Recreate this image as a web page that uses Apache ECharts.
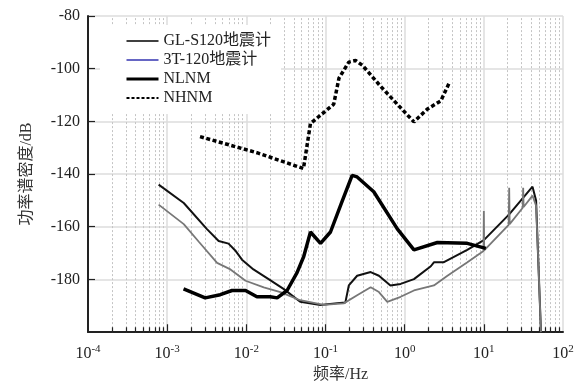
<!DOCTYPE html>
<html>
<head>
<meta charset="utf-8">
<script src="https://cdn.jsdelivr.net/npm/echarts@6/dist/echarts.min.js"></script>
<style>
    html, body { margin: 0; padding: 0; background: #fff; }
    #psd { width: 584px; height: 388px; }
</style>
</head>
<body>
<div id="psd"></div>
<script>
// 频率(Hz) / 功率谱密度(dB)
var glFreq = [0.00078, 0.00162, 0.00316, 0.00447, 0.00596, 0.00724, 0.00881, 0.0123, 0.0191, 0.0295, 0.0479, 0.0865, 0.141, 0.178, 0.197, 0.251, 0.372, 0.473, 0.661, 0.89, 1.31, 2.14, 2.34, 3.09, 6.17, 10, 20.9, 41.2, 45.7, 48.3, 52.7];
var glPsd = [-144.0, -151.0, -160.8, -165.4, -166.4, -169.0, -172.5, -176.2, -179.9, -183.6, -188.5, -189.7, -189.0, -188.8, -182.3, -178.6, -177.2, -178.6, -182.3, -181.7, -179.9, -175.0, -173.5, -173.5, -168.8, -165.1, -155.3, -144.8, -150, -170, -200];

var t3Freq = [0.00078, 0.00162, 0.00251, 0.00427, 0.0063, 0.00977, 0.0166, 0.0269, 0.0479, 0.095, 0.17, 0.251, 0.372, 0.473, 0.603, 0.89, 1.31, 2.34, 3.47, 6.2, 9.9, 10, 10.1, 20.6, 20.9, 21.2, 31, 31.4, 31.8, 41.2, 45.7, 48.3, 52.7];
var t3Psd = [-151.6, -159.0, -165.7, -173.7, -176.2, -180.5, -183.0, -184.8, -187.9, -189.7, -189.1, -186.0, -183.0, -184.8, -188.5, -186.6, -184.2, -182.3, -178.6, -173.5, -169.2, -154, -169, -159.3, -145.2, -159.0, -152.8, -145.2, -152.5, -148.2, -152, -170, -200];

var nlnmFreq = [0.00161, 0.00302, 0.00468, 0.0066, 0.00977, 0.0136, 0.02, 0.0245, 0.0327, 0.0437, 0.0531, 0.0646, 0.0865, 0.1156, 0.162, 0.217, 0.251, 0.407, 0.807, 1.31, 2.59, 6.17, 10.6];
var nlnmPsd = [-183.6, -187.0, -185.8, -184.2, -184.2, -186.6, -186.6, -187.0, -184.2, -177.4, -171.3, -162.0, -166.3, -162.0, -150.4, -140.5, -141.1, -146.7, -160.8, -168.8, -166.0, -166.3, -168.2];

var nhnmFreq = [0.0026, 0.0136, 0.0527, 0.0646, 0.127, 0.148, 0.197, 0.24, 0.292, 0.497, 0.807, 1.31, 1.94, 2.86, 3.64];
var nhnmPsd = [-125.8, -131.9, -137.9, -120.8, -113.5, -103.6, -97.5, -96.9, -98.7, -106.7, -113.5, -120.2, -115.3, -112.2, -105.5];

var seriesNames = ['GL-S120地震计', '3T-120地震计', 'NLNM', 'NHNM'];

function pairs(fs, vs) {
    var out = [];
    for (var i = 0; i < fs.length; i++) {
        out.push([fs[i], vs[i]]);
    }
    return out;
}

// 对数轴次网格线 / 刻度 (2..9 倍)
var minorGrid = [];
var minorTick = [];
for (var e = -4; e < 2; e++) {
    for (var m = 1; m <= 9; m++) {
        var v = m * Math.pow(10, e);
        if (m > 1) {
            minorGrid.push({ coords: [[v, -200], [v, -80]] });
            minorTick.push({ coords: [[v, -200], [v, -198.2]] });
        } else if (e > -4) {
            minorTick.push({ coords: [[v, -200], [v, -197]] });
        }
    }
}

var serif = "'Liberation Serif', 'Noto Sans CJK SC', serif";

var myChart = echarts.init(document.getElementById('psd'));

var option = {
    animation: false,
    backgroundColor: '#fff',
    textStyle: { fontFamily: serif },
    grid: {
        left: 88,
        right: 21,
        top: 16,
        bottom: 47
    },
    legend: {
        orient: 'vertical',
        left: 100,
        top: 25,
        padding: [8, 10, 8, 25],
        itemGap: 3,
        itemWidth: 32,
        itemHeight: 12,
        backgroundColor: '#fff',
        itemStyle: { opacity: 0 },
        textStyle: { fontFamily: serif, fontSize: 16, color: '#222' },
        data: [
            { name: seriesNames[0], lineStyle: { color: '#000', width: 1.5 } },
            { name: seriesNames[1], lineStyle: { color: '#3333b0', width: 1.3 } },
            { name: seriesNames[2], lineStyle: { color: '#000', width: 3 } },
            { name: seriesNames[3], lineStyle: { color: '#000', width: 1.8, type: [3, 2] } }
        ]
    },
    xAxis: {
        type: 'log',
        logBase: 10,
        min: 1e-4,
        max: 1e2,
        splitNumber: 6,
        name: '频率/Hz',
        nameLocation: 'middle',
        nameGap: 30,
        nameTextStyle: { fontFamily: serif, fontSize: 16, color: '#333', padding: [0, 0, 0, 30] },
        axisLine: { lineStyle: { color: '#222', width: 2 } },
        axisTick: { show: false },
        splitLine: { show: true, lineStyle: { color: '#dcdcdc', width: 1.5 } },
        axisLabel: {
            margin: 12,
            formatter: function (val) {
                var p = Math.round(Math.log(val) / Math.LN10);
                return '{b|10}{s|' + p + '}';
            },
            rich: {
                b: { fontFamily: serif, fontSize: 16, color: '#222' },
                s: { fontFamily: serif, fontSize: 11, color: '#222', padding: [0, 0, 9, 0] }
            }
        }
    },
    yAxis: {
        type: 'value',
        min: -200,
        max: -80,
        interval: 20,
        name: '功率谱密度/dB',
        nameLocation: 'middle',
        nameGap: 53,
        nameTextStyle: { fontFamily: serif, fontSize: 16, color: '#333' },
        axisLine: { show: true, lineStyle: { color: '#222', width: 2 } },
        axisTick: { show: true, inside: true, length: 7, lineStyle: { color: '#222', width: 1.2 } },
        splitLine: { show: true, lineStyle: { color: '#dcdcdc', width: 1.5 } },
        axisLabel: {
            showMinLabel: false,
            margin: 8,
            fontFamily: serif,
            fontSize: 16,
            color: '#222'
        }
    },
    series: [
        {
            name: 'minor-grid',
            type: 'lines',
            coordinateSystem: 'cartesian2d',
            silent: true,
            z: 1,
            lineStyle: { color: '#c4c4c4', type: [2, 2], width: 1, opacity: 1 },
            data: minorGrid
        },
        {
            name: 'minor-tick',
            type: 'lines',
            coordinateSystem: 'cartesian2d',
            silent: true,
            z: 1,
            lineStyle: { color: '#222', type: 'solid', width: 1.2, opacity: 1 },
            data: minorTick
        },
        {
            name: seriesNames[0],
            type: 'line',
            data: pairs(glFreq, glPsd),
            showSymbol: false,
            symbol: 'none',
            lineStyle: { color: '#111', width: 2 },
            itemStyle: { color: '#111' }
        },
        {
            name: seriesNames[1],
            type: 'line',
            data: pairs(t3Freq, t3Psd),
            showSymbol: false,
            symbol: 'none',
            lineStyle: { color: '#777', width: 1.8 },
            itemStyle: { color: '#777' }
        },
        {
            name: seriesNames[2],
            type: 'line',
            data: pairs(nlnmFreq, nlnmPsd),
            showSymbol: false,
            symbol: 'none',
            lineStyle: { color: '#000', width: 3.5 },
            itemStyle: { color: '#000' }
        },
        {
            name: seriesNames[3],
            type: 'line',
            data: pairs(nhnmFreq, nhnmPsd),
            showSymbol: false,
            symbol: 'none',
            lineStyle: { color: '#000', width: 3.5, type: [4, 2.5] },
            itemStyle: { color: '#000' }
        }
    ]
};

myChart.setOption(option);
</script>
</body>
</html>
